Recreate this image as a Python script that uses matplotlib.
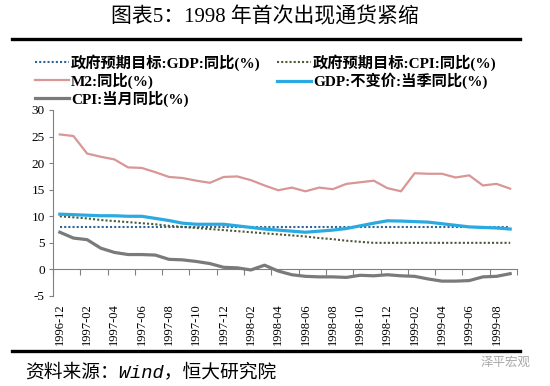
import numpy as np
import matplotlib
matplotlib.use("Agg")
import matplotlib.pyplot as plt
from matplotlib.lines import Line2D

# -----------------------------
# Data (monthly, 1996-12 .. 1999-09)
# -----------------------------
months = ["1996-12",
          "1997-01", "1997-02", "1997-03", "1997-04", "1997-05", "1997-06",
          "1997-07", "1997-08", "1997-09", "1997-10", "1997-11", "1997-12",
          "1998-01", "1998-02", "1998-03", "1998-04", "1998-05", "1998-06",
          "1998-07", "1998-08", "1998-09", "1998-10", "1998-11", "1998-12",
          "1999-01", "1999-02", "1999-03", "1999-04", "1999-05", "1999-06",
          "1999-07", "1999-08", "1999-09"]

gdp_target = [8.0] * 34

cpi_target = [10.0, 9.8, 9.6, 9.3, 9.1, 8.9, 8.7, 8.5, 8.2, 8.0, 7.8, 7.6,
              7.4, 7.2, 7.0, 6.8, 6.6, 6.4, 6.2, 5.9, 5.7, 5.4, 5.2, 5.0,
              5.0, 5.0, 5.0, 5.0, 5.0, 5.0, 5.0, 5.0, 5.0, 5.0]

m2 = [25.4, 25.1, 21.8, 21.2, 20.7, 19.2, 19.1, 18.3, 17.4, 17.2, 16.7, 16.3,
      17.4, 17.5, 16.8, 15.8, 14.9, 15.4, 14.7, 15.4, 15.1, 16.1, 16.4, 16.7,
      15.3, 14.7, 18.1, 18.0, 18.0, 17.3, 17.7, 15.8, 16.1, 15.2]

gdp = [10.4, 10.3, 10.2, 10.1, 10.1, 10.0, 10.0, 9.6, 9.2, 8.7, 8.5, 8.5,
       8.5, 8.2, 7.9, 7.6, 7.4, 7.2, 7.0, 7.2, 7.4, 7.7, 8.2, 8.7,
       9.15, 9.1, 9.0, 8.9, 8.6, 8.3, 8.0, 7.9, 7.8, 7.6]

cpi = [7.0, 5.9, 5.6, 4.0, 3.2, 2.8, 2.8, 2.7, 1.9, 1.8, 1.5, 1.1,
       0.4, 0.3, -0.1, 0.8, -0.3, -1.0, -1.3, -1.4, -1.4, -1.5, -1.1, -1.2,
       -1.0, -1.2, -1.3, -1.8, -2.2, -2.2, -2.1, -1.4, -1.3, -0.8]

labels = ["政府预期目标:GDP:同比(%)", "M2:同比(%)", "CPI:当月同比(%)",
          "政府预期目标:CPI:同比(%)", "GDP:不变价:当季同比(%)"]

# -----------------------------
# Plot
# -----------------------------
plt.rcParams["axes.unicode_minus"] = False
mix = ["Liberation Serif", "Noto Sans CJK SC"]
W, H = 550, 386
fig = plt.figure(figsize=(5.5, 3.86), dpi=100)
ax = fig.add_axes([53 / W, (H - 296) / H, 464 / W, 186 / H])

x = np.arange(len(months))
dots = dict(linestyle=(0, (1, 1)), linewidth=1.5, dash_capstyle="butt")
l_gdpt, = ax.plot(x, gdp_target, color="#2F6596", **dots)
l_cpit, = ax.plot(x, cpi_target, color="#4B5A36", **dots)
l_m2, = ax.plot(x, m2, color="#D99696", linewidth=1.6, solid_joinstyle="round")
l_gdp, = ax.plot(x, gdp, color="#2BA9E1", linewidth=2.3, solid_joinstyle="round")
l_cpi, = ax.plot(x, cpi, color="#7A7A7A", linewidth=2.3, solid_joinstyle="round")

ax.set_xlim(-0.5, len(months) - 0.5)
ax.set_ylim(-5, 30)
ax.set_yticks(np.arange(-5, 31, 5))
ax.set_xticks(x[::2])
ax.set_xticklabels(months[::2], rotation=90, fontfamily="Liberation Serif", fontsize=9)
for t in ax.get_yticklabels():
    t.set_fontfamily("Liberation Serif")
    t.set_fontsize(9.5)
ax.tick_params(axis="x", length=0, pad=5)
ax.tick_params(axis="y", length=3, color="#808080", pad=3)
for s in ["top", "right", "bottom"]:
    ax.spines[s].set_visible(False)
ax.spines["left"].set_color("#808080")

# category axis crossing at zero, with tick marks between categories
sec = ax.secondary_xaxis(5 / 35)
sec.set_xticks(np.arange(-0.5, len(months), 2))
sec.tick_params(direction="out", length=4, color="#808080", labelbottom=False)
sec.spines["bottom"].set_color("#808080")

# legend in two columns
kw = dict(frameon=False, loc="upper left", borderpad=0, borderaxespad=0,
          handlelength=2.2, handletextpad=0.15, labelspacing=0.12,
          prop={"family": mix, "weight": "bold", "size": 11})
fig.legend([l_gdpt, l_m2, l_cpi], labels[:3],
           bbox_to_anchor=(35 / W, 1 - 54 / H), **kw)
fig.legend([l_cpit, l_gdp], labels[3:],
           bbox_to_anchor=(277 / W, 1 - 54 / H), **kw)

# title and frame lines
fig.text(265 / W, 1 - 17 / H, "图表5：1998 年首次出现通货紧缩", ha="center", va="center",
         fontsize=15, family=mix, weight="light")
fig.add_artist(Line2D([12 / W, 520 / W], [1 - 38.5 / H] * 2, color="black", linewidth=2.4))
fig.add_artist(Line2D([12 / W, 520 / W], [1 - 351 / H] * 2, color="black", linewidth=2.4))

fig.text(25 / W, 1 - 372 / H, "资料来源：Wind，恒大研究院", ha="left", va="center",
         fontsize=13.5, family=["Liberation Mono", "Noto Sans CJK SC"], style="italic")
fig.text(506 / W, 1 - 362 / H, "泽平宏观", ha="center", va="center",
         fontsize=9, color="#A8A8A8", family=["Noto Sans CJK SC"])

fig.savefig("out.png", dpi=100)
